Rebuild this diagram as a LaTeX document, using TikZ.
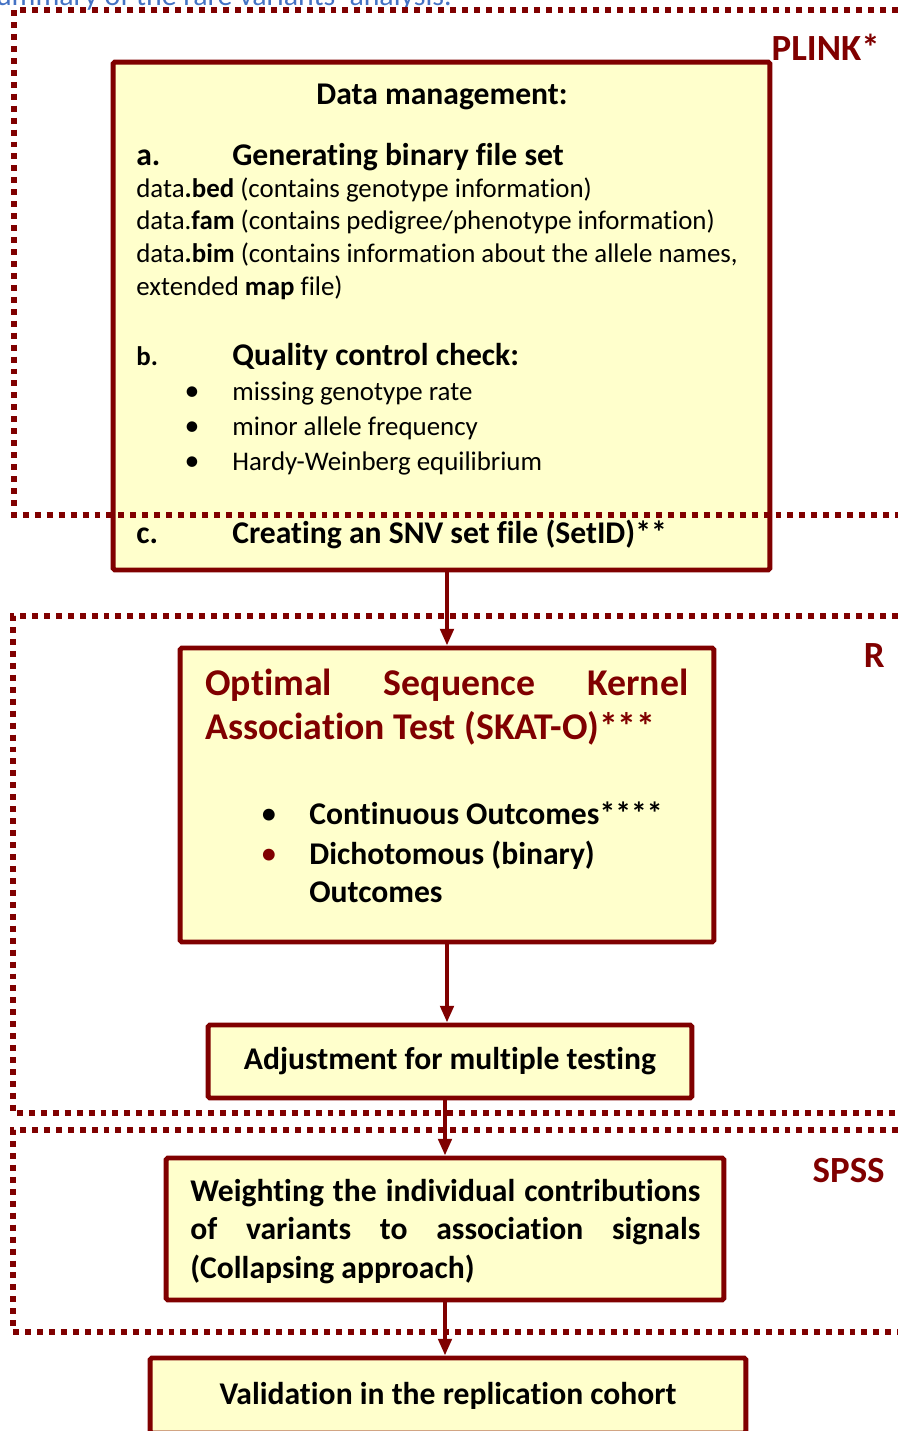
\documentclass[tikz,border=0pt]{standalone}
\usepackage{fontspec}
\setmainfont{Carlito}[Ligatures={TeX,NoCommon}]
\usetikzlibrary{arrows.meta, positioning}

\definecolor{boxred}{RGB}{128,0,0}
\definecolor{boxfill}{RGB}{255,255,204}
\definecolor{captionblue}{RGB}{68,114,196}

\begin{document}
\begin{tikzpicture}[
    x=0.02cm, y=-0.02cm, % one unit per layout pixel, y pointing down
    region/.style={boxred, line width=2.9pt, dash pattern=on 3.4pt off 3.4pt}, % dotted tool frames
    region label/.style={anchor=base east, inner sep=0pt, text=boxred, font=\bfseries\fontsize{21}{25}\selectfont}, % PLINK*, R, SPSS
    procbox/.style={draw=boxred, fill=boxfill, line width=2.8pt, rounded corners=1pt, inner sep=0pt}, % yellow step boxes
    flow/.style={-{Triangle[length=9.5pt, width=7.5pt]}, line width=2.3pt, boxred}, % arrows between steps
    body/.style={anchor=base west, inner sep=0pt, font=\fontsize{15.3}{18}\selectfont}, % plain lines
    heading/.style={anchor=base west, inner sep=0pt, font=\bfseries\fontsize{18}{22}\selectfont}, % bold lines
    small letter/.style={body, font=\bfseries\fontsize{15.3}{18}\selectfont}, % b.
    dot/.style={anchor=base, inner sep=0pt, font=\fontsize{17}{20}\selectfont} % bullets
  ]

  % --- Page ---
  \useasboundingbox (0,0) rectangle (898,1431);
  \clip (0,0) rectangle (898,1431);

  % --- Caption (cut off at the top) ---
  \node[anchor=base east, inner sep=0pt, text=captionblue, font=\fontsize{17}{20}\selectfont] (caption) at (452,5) {Summary of the rare variants' analysis.};

  % --- Step boxes ---
  \node[procbox, minimum width=13.14cm, minimum height=10.16cm] (mgmt) at (441.5,316) {};
  \node[procbox, minimum width=10.68cm, minimum height=5.88cm] (skat) at (447,795) {};
  \node[procbox, minimum width=9.68cm, minimum height=1.46cm, font=\bfseries\fontsize{18}{22}\selectfont] (adjust) at (450,1061.5) {Adjustment for multiple testing};
  \node[procbox, minimum width=11.16cm, minimum height=2.84cm] (weight) at (445,1229) {};
  \node[procbox, minimum width=11.92cm, minimum height=1.5cm, font=\bfseries\fontsize{18}{22}\selectfont] (valid) at (448,1395.5) {Validation in the replication cohort};

  % --- Data management text ---
  \node[heading, anchor=base] (mgmt title) at (442,104) {Data management:};
  \node[heading] (step a) at (136,165) {a.};
  \node[heading] (binary title) at (232,165) {Generating binary file set};
  \node[body] (bed line) at (136,197) {data\textbf{.bed} (contains genotype information)};
  \node[body] (fam line) at (136,229) {data.\textbf{fam} (contains pedigree/phenotype information)};
  \node[body] (bim line) at (136,262) {data\textbf{.bim} (contains information about the allele names,};
  \node[body] (map line) at (136,295) {extended \textbf{map} file)};
  \node[small letter] (step b) at (136,365) {b.};
  \node[heading] (qc title) at (232,365) {Quality control check:};
  \foreach \y/\txt [count=\i] in {400/missing genotype rate, 435/minor allele frequency, 470/Hardy-Weinberg equilibrium} {
      \node[dot] (qc dot \i) at (192,\y) {\textbullet};
      \node[body] (qc item \i) at (232,\y) {\txt};
  }
  \node[heading] (step c) at (136,543) {c.};
  \node[heading] (setid title) at (232,543) {Creating an SNV set file (SetID)**};

  % --- SKAT-O text ---
  \node[anchor=base west, inner sep=0pt, text=boxred, font=\bfseries\fontsize{21.5}{25}\selectfont] (skat title) at (205,695)
    {\parbox[t]{9.66cm}{\baselineskip=25.5pt Optimal Sequence Kernel\linebreak Association Test (SKAT-O)***}};
  \node[dot, font=\fontsize{19}{22}\selectfont] (cont dot) at (269,824) {\textbullet};
  \node[heading] (cont item) at (309,824) {Continuous Outcomes****};
  \node[dot, font=\fontsize{19}{22}\selectfont, text=boxred] (dich dot) at (269,864) {\textbullet};
  \node[heading] (dich item) at (309,864) {Dichotomous (binary)};
  \node[heading] (dich item 2) at (309,902) {Outcomes};

  % --- Collapsing text ---
  \node[heading] (weight text) at (190,1201)
    {\parbox[t]{10.2cm}{\baselineskip=22.1pt Weighting the individual contributions\linebreak of variants to association signals\linebreak (Collapsing approach)}};

  % --- Tool regions (drawn over the boxes) ---
  \draw[region] (898,10) -- (14,10) -- (14,515) -- (898,515);
  \draw[region] (898,616) -- (13,616) -- (13,1113) -- (898,1113);
  \draw[region] (898,1130) -- (13,1130) -- (13,1332) -- (898,1332);
  \node[region label] (plink label) at (880,60) {PLINK*};
  \node[region label] (r label) at (885,667) {R};
  \node[region label] (spss label) at (885,1182) {SPSS};

  % --- Flow ---
  \draw[flow] (mgmt.south -| skat.north) -- (skat.north);
  \draw[flow] (skat.south) -- (skat.south |- adjust.north);
  \draw[flow] (weight.north |- adjust.south) -- (weight.north);
  \draw[flow] (weight.south) -- (weight.south |- valid.north);

\end{tikzpicture}
\end{document}
